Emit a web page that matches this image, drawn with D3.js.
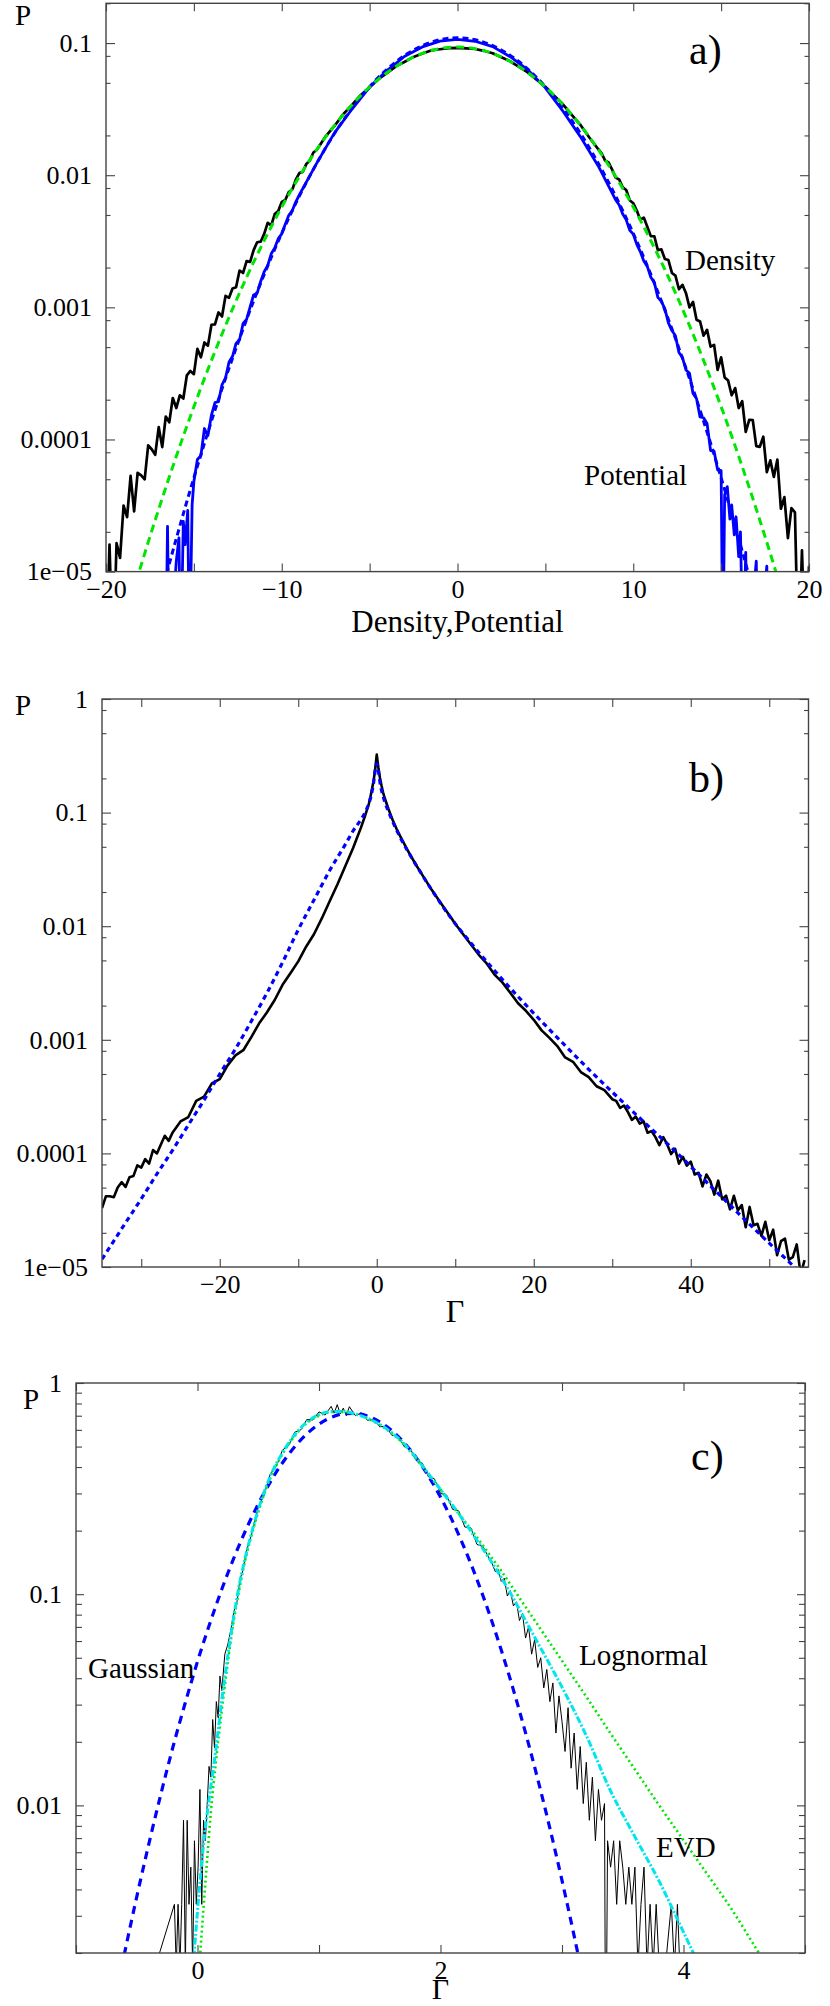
<!DOCTYPE html>
<html><head><meta charset="utf-8">
<script src="https://cdn.jsdelivr.net/npm/d3@7"></script>
<style>
body{margin:0;background:#fff}
svg{display:block}
text{font-family:"Liberation Serif","Times New Roman",serif}
</style>
</head><body>
<svg id="chart" width="830" height="2006"></svg>
<script>
// ---------------- DATA ----------------
// Panel a) : Density histogram (black), Gaussian fit (green), Potential histogram (blue) + fit (blue dashed)
const aDensity = [
 [-20,0],[-19.8,1.6e-5],[-19.6,0],[-19.4,1.64e-5],[-19.2,1.27e-5],[-19,3.16e-5],[-18.8,2.58e-5],[-18.6,5.3e-5],
 [-18.4,2.86e-5],[-18.2,5.6e-5],[-18,5.35e-5],[-17.8,4.99e-5],[-17.6,9.03e-5],[-17.4,8.43e-5],[-17.2,7.66e-5],[-17,1.24e-4],
 [-16.8,8.75e-5],[-16.6,1.49e-4],[-16.4,1.35e-4],[-16.2,2.06e-4],[-16,1.73e-4],[-15.8,2.16e-4],[-15.6,2.04e-4],[-15.4,3.06e-4],
 [-15.2,3.30e-4],[-15,3.12e-4],[-14.8,4.85e-4],[-14.6,4.19e-4],[-14.4,5.42e-4],[-14.2,5.13e-4],[-14,7.38e-4],[-13.8,7.43e-4],
 [-13.6,9.15e-4],[-13.4,8.53e-4],[-13.2,1.22e-3],[-13,1.18e-3],[-12.8,1.39e-3],[-12.6,1.42e-3],[-12.4,1.90e-3],[-12.2,1.82e-3],
 [-12,2.24e-3],[-11.8,2.21e-3],[-11.6,2.71e-3],[-11.4,3.11e-3],[-11.2,3.14e-3],[-11,3.60e-3],[-10.8,4.36e-3],[-10.6,4.17e-3],
 [-10.4,5.08e-3],[-10.2,5.36e-3],[-10,6.28e-3],[-9.8,6.49e-3],[-9.6,7.45e-3],[-9.4,7.80e-3],[-9.2,9.25e-3],[-9,1.038e-2],
 [-8.8,1.062e-2],[-8.6,1.219e-2],[-8.4,1.294e-2],[-8.2,1.486e-2],
 [-8,1.56e-2],[-7.5,1.97e-2],[-7,2.36e-2],[-6.5,2.9e-2],[-6,3.40e-2],[-5.5,4.05e-2],[-5,4.62e-2],[-4.5,5.33e-2],
 [-4,5.95e-2],[-3.5,6.66e-2],[-3,7.22e-2],[-2.5,7.86e-2],[-2,8.33e-2],[-1.5,8.8e-2],[-1,8.98e-2],[-0.5,9.16e-2],
 [0,9.2e-2],[0.5,9.12e-2],[1,9.02e-2],[1.5,8.74e-2],[2,8.38e-2],[2.5,7.8e-2],[3,7.28e-2],[3.5,6.6e-2],
 [4,6.0e-2],[4.5,5.28e-2],[5,4.67e-2],[5.5,4.0e-2],[6,3.44e-2],[6.5,2.86e-2],[7,2.40e-2],[7.5,1.93e-2],
 [8,1.58e-2],[8.2,1.466e-2],[8.4,1.288e-2],[8.6,1.247e-2],[8.8,1.102e-2],[9,9.59e-3],[9.2,9.29e-3],[9.4,8.09e-3],
 [9.6,7.73e-3],[9.8,6.46e-3],[10,6.14e-3],[10.2,5.40e-3],[10.4,4.61e-3],[10.6,4.78e-3],[10.8,4.08e-3],[11,3.46e-3],
 [11.2,3.45e-3],[11.4,2.71e-3],[11.6,2.75e-3],[11.8,2.32e-3],[12,2.28e-3],[12.2,1.82e-3],[12.4,1.74e-3],[12.6,1.37e-3],
 [12.8,1.48e-3],[13,1.28e-3],[13.2,9.99e-4],[13.4,1.10e-3],[13.6,8.06e-4],[13.8,7.82e-4],[14,6.11e-4],[14.2,6.76e-4],
 [14.4,5.04e-4],[14.6,5.2e-4],[14.8,3.36e-4],[15,4.19e-4],[15.2,2.95e-4],[15.4,2.79e-4],[15.6,2.16e-4],[15.8,2.45e-4],
 [16,1.73e-4],[16.2,1.95e-4],[16.4,1.14e-4],[16.6,1.41e-4],[16.8,1.40e-4],[17,8.9e-5],[17.2,8.8e-5],[17.4,1.05e-4],
 [17.6,5.65e-5],[17.8,6.95e-5],[18,5.2e-5],[18.2,7.05e-5],[18.4,2.99e-5],[18.6,3.66e-5],[18.8,1.79e-5],[19,3.02e-5],
 [19.2,2.81e-5],[19.4,0],[19.6,1.45e-5],[19.8,0],[20,1.1e-5]
];
const aDensityFit = [
 [-18.5,6.7e-6],[-18,1.12e-5],[-17,2.97e-5],[-16,7.46e-5],[-15,1.77e-4],[-14,3.97e-4],[-13,8.42e-4],[-12,1.69e-3],
 [-11,3.20e-3],[-10,5.75e-3],[-9,9.77e-3],[-8,1.57e-2],[-7,2.38e-2],[-6,3.42e-2],[-5,4.65e-2],[-4,5.98e-2],
 [-3,7.26e-2],[-2,8.35e-2],[-1,9.08e-2],[0,9.33e-2],[1,9.08e-2],[2,8.35e-2],[3,7.26e-2],[4,5.98e-2],
 [5,4.65e-2],[6,3.42e-2],[7,2.38e-2],[8,1.57e-2],[9,9.77e-3],[10,5.75e-3],[11,3.20e-3],[12,1.69e-3],
 [13,8.42e-4],[14,3.97e-4],[15,1.77e-4],[16,7.46e-5],[17,2.97e-5],[18,1.12e-5],[18.5,6.7e-6]
];
const aPotential = [
 [-16.6,0],[-16.5,2.2e-5],[-16.4,0],[-16,1.2e-5],[-15.85,1.8e-5],[-15.75,0],[-15.6,2.4e-5],[-15.5,1.6e-5],[-15.35,2.9e-5],
 [-15.25,0],[-15.1,3.2e-5],[-15,4.8e-5],[-14.8,7.05e-5],[-14.6,7.55e-5],[-14.4,1.21e-4],[-14.2,1.07e-4],[-14,1.53e-4],
 [-13.8,1.90e-4],[-13.6,1.93e-4],[-13.4,2.59e-4],[-13.2,2.92e-4],[-13,3.86e-4],[-12.8,4.26e-4],[-12.6,5.33e-4],[-12.4,5.69e-4],
 [-12.2,7.55e-4],[-12,8.12e-4],[-11.8,1.01e-3],[-11.6,1.24e-3],[-11.4,1.28e-3],[-11.2,1.57e-3],[-11,1.86e-3],[-10.8,2.07e-3],
 [-10.6,2.54e-3],[-10.4,2.81e-3],[-10.2,3.31e-3],[-10,3.60e-3],[-9.8,4.26e-3],[-9.6,4.97e-3],[-9.4,5.40e-3],[-9.2,6.29e-3],
 [-9,7.1e-3],[-8,1.24e-2],[-7,2.09e-2],[-6,3.17e-2],[-5,4.65e-2],[-4,6.22e-2],
 [-3,7.95e-2],[-2,9.35e-2],[-1,0.1035],[0,0.1065],[1,0.1032],[2,0.094],[3,0.0788],[4,0.0628],
 [5,0.0458],[6,0.0305],[7,0.0195],[8,0.0118],[9,6.5e-3],
 [9.2,5.95e-3],[9.4,5.09e-3],[9.6,4.59e-3],[9.8,3.83e-3],[10,3.58e-3],[10.2,3.0e-3],[10.4,2.64e-3],[10.6,2.24e-3],
 [10.8,2.04e-3],[11,1.69e-3],[11.2,1.54e-3],[11.4,1.19e-3],[11.6,1.11e-3],[11.8,9.73e-4],[12,7.63e-4],[12.2,6.67e-4],
 [12.4,6.10e-4],[12.6,4.55e-4],[12.8,4.17e-4],[13,3.36e-4],[13.2,3.17e-4],[13.4,2.23e-4],[13.6,2.04e-4],[13.8,1.48e-4],
 [14,1.46e-4],[14.2,1.32e-4],[14.4,8.25e-5],[14.6,8.16e-5],[14.8,5.89e-5],[15,5.8e-5],[15.1,0],[15.2,3.8e-5],
 [15.35,4.4e-5],[15.5,2.5e-5],[15.6,3.2e-5],[15.75,1.9e-5],[15.85,2.6e-5],[16,1.3e-5],[16.1,2.0e-5],[16.25,0],
 [16.4,1.4e-5],[16.5,0],[17,1.2e-5],[17.1,0],[17.6,1.1e-5],[17.7,0]
];
const aPotentialFit = [
 [-17,5.8e-6],[-16,1.78e-5],[-15,5.13e-5],[-14,1.378e-4],[-13,3.46e-4],[-12,8.1e-4],[-11,1.775e-3],[-10,3.63e-3],
 [-9,6.94e-3],[-8,1.238e-2],[-7,2.07e-2],[-6,3.21e-2],[-5,4.68e-2],[-4,6.36e-2],[-3,8.07e-2],[-2,9.57e-2],
 [-1,0.106],[0,0.1096],[1,0.106],[2,9.57e-2],[3,8.07e-2],[4,6.36e-2],[5,4.68e-2],[6,3.21e-2],
 [7,2.07e-2],[8,1.238e-2],[9,6.94e-3],[10,3.63e-3],[11,1.775e-3],[12,8.1e-4],[13,3.46e-4],[14,1.378e-4],
 [15,5.13e-5],[16,1.78e-5],[17,5.8e-6]
];
const aXTicks = [-20,-15,-10,-5,0,5,10,15,20];
const aXLabels = [-20,-10,0,10,20];
const aYMajor = [1e-5,1e-4,1e-3,1e-2,1e-1];
const aYLabels = ["1e\u221205","0.0001","0.001","0.01","0.1"];
const aYMinor = [2e-5,5e-5,8e-5,2e-4,5e-4,8e-4,2e-3,5e-3,8e-3,2e-2,5e-2,8e-2,0.2];

// Panel b) : Gamma distribution (black) and fit (blue dashed)
const bData = [
 [-35,3.3e-5],[-34.5,4.2e-5],[-34,4.2e-5],[-33.5,4.12e-5],[-33,5.01e-5],[-32.5,5.58e-5],[-32,5.07e-5],[-31.5,6.17e-5],
 [-31,6.31e-5],[-30.5,7.85e-5],[-30,7.5e-5],[-29.5,8.91e-5],[-29,8.13e-5],[-28.5,1.07e-4],[-28,1.0e-4],[-27.5,1.20e-4],
 [-27,1.43e-4],[-26.5,1.29e-4],[-26,1.53e-4],[-25,1.91e-4],[-24,2.09e-4],[-23,2.90e-4],[-22,3.16e-4],[-21,4.13e-4],
 [-20,4.5e-4],[-19,5.96e-4],[-18,7.3e-4],[-17,8.1e-4],[-16,1.05e-3],[-15,1.39e-3],[-14,1.74e-3],[-13,2.24e-3],
 [-12,3.05e-3],[-11,3.85e-3],[-10,4.9e-3],[-9,6.6e-3],[-8,8.5e-3],[-7,1.17e-2],[-6,1.66e-2],[-5,2.34e-2],
 [-4,3.39e-2],[-3,4.9e-2],[-2.5,6.03e-2],[-2,7.41e-2],[-1.5,9.33e-2],[-1,0.120],[-0.8,0.138],[-0.6,0.162],
 [-0.4,0.191],[-0.2,0.240],[0,0.324],[0.2,0.251],[0.4,0.204],[0.6,0.174],[0.8,0.151],[1,0.135],
 [1.5,0.107],[2,8.71e-2],[2.5,7.24e-2],[3,6.17e-2],[4,4.57e-2],[5,3.47e-2],[6,2.69e-2],[7,2.09e-2],
 [8,1.66e-2],[9,1.32e-2],[10,1.05e-2],[11,8.5e-3],[12,6.9e-3],[13,5.6e-3],[14,4.7e-3],[15,3.75e-3],
 [16,3.2e-3],[17,2.6e-3],[18,2.1e-3],[19,1.8e-3],[20,1.5e-3],[21,1.21e-3],[22,1.04e-3],[23,8.8e-4],
 [24,7.0e-4],[25,6.4e-4],[26,5.2e-4],[27,4.7e-4],[28,3.9e-4],[29,3.6e-4],[30,3.0e-4],[30.5,2.90e-4],
 [31,2.51e-4],[31.5,2.64e-4],[32,2.31e-4],[32.5,1.97e-4],[33,2.11e-4],[33.5,1.83e-4],[34,1.91e-4],[34.5,1.52e-4],
 [35,1.57e-4],[35.5,1.39e-4],[36,1.18e-4],[36.5,1.39e-4],[37,1.2e-4],[37.5,9.86e-5],[38,1.10e-4],[38.5,8.13e-5],
 [39,9.33e-5],[39.5,7.80e-5],[40,8.47e-5],[40.5,6.52e-5],[41,6.75e-5],[41.5,5.12e-5],[42,6.52e-5],[42.5,5.71e-5],
 [43,4.34e-5],[43.5,5.75e-5],[44,3.94e-5],[44.5,4.25e-5],[45,3.22e-5],[45.5,4.24e-5],[46,3.15e-5],[46.5,3.51e-5],
 [47,2.24e-5],[47.5,3.38e-5],[48,2.33e-5],[48.5,2.40e-5],[49,1.88e-5],[49.5,2.50e-5],[50,1.72e-5],[50.5,2.13e-5],
 [51,1.27e-5],[51.5,1.69e-5],[52,1.78e-5],[52.5,1.16e-5],[53,1.22e-5],[53.5,1.58e-5],[54,8.6e-6],[54.5,1.15e-5]
];
const bFit = [
 [-35,1.17e-5],[-32,2.45e-5],[-30,3.98e-5],[-28,6.6e-5],[-26,1.07e-4],[-24,1.78e-4],[-22,2.95e-4],[-20,5.0e-4],
 [-18,8.3e-4],[-16,1.45e-3],[-14,2.57e-3],[-12,4.8e-3],[-10,9.3e-3],[-8,1.7e-2],[-6,3.09e-2],[-4,5.25e-2],
 [-3,6.92e-2],[-2,8.71e-2],[-1.35,0.105],[-1,0.120],[-0.5,0.166],[0,0.269],[0.5,0.17],[1,0.126],
 [1.5,0.102],[3,6.03e-2],[5,3.47e-2],[7,2.09e-2],[9.5,1.17e-2],[12,7.1e-3],[15,4.07e-3],[18,2.4e-3],
 [21,1.45e-3],[24,8.9e-4],[27,5.5e-4],[30,3.47e-4],[34,1.9e-4],[38,1.05e-4],[42,5.6e-5],[46,3.0e-5],
 [50,1.62e-5],[54,8.9e-6]
];
const bXTicks = [-30,-20,-10,0,10,20,30,40,50];
const bXLabels = [-20,0,20,40];
const bYMajor = [1e-5,1e-4,1e-3,1e-2,1e-1,1];
const bYLabels = ["1e\u221205","0.0001","0.001","0.01","0.1","1"];
const bYMinor = [2e-5,5e-5,8e-5,2e-4,5e-4,8e-4,2e-3,5e-3,8e-3,2e-2,5e-2,8e-2,0.2,0.5,0.8];

// Panel c) : data (black), Gaussian (blue dashed), Lognormal (green dotted), EVD (cyan dash-dot)
const cData = [
 [-0.35,0.0017],[-0.19,0.0034],[-0.175,0.0017],[-0.16,0.0034],[-0.145,0.0017],[-0.13,0.0034],[-0.115,0.0085],[-0.10,0.0017],
 [-0.085,0.0085],[-0.07,0.0034],[-0.055,0.0051],[-0.04,0.0017],[-0.025,0.0068],[-0.01,0.0034],[0.005,0.0051],[0.02,0.0119],
 [0.035,0.0034],[0.05,0.0085],[0.065,0.0068],[0.08,0.0102],[0.095,0.0153],[0.11,0.0136],[0.125,0.0255],[0.14,0.0187],
 [0.155,0.031],[0.17,0.026],[0.185,0.041],[0.2,0.035],[0.225,0.052],[0.25,0.058],[0.275,0.068],[0.3,0.083],
 [0.325,0.092],[0.35,0.118],[0.375,0.130],[0.40,0.158],[0.45,0.196],[0.50,0.258],[0.55,0.298],[0.60,0.372],
 [0.65,0.405],[0.70,0.482],[0.75,0.505],[0.80,0.585],[0.85,0.60],[0.90,0.672],[0.95,0.668],[1.00,0.73],
 [1.05,0.705],[1.10,0.775],[1.125,0.72],[1.15,0.79],[1.175,0.715],[1.20,0.76],[1.225,0.70],[1.25,0.772],
 [1.30,0.70],[1.35,0.722],[1.40,0.665],[1.45,0.675],[1.50,0.62],[1.55,0.625],[1.60,0.565],[1.65,0.565],
 [1.70,0.50],[1.75,0.49],[1.80,0.43],[1.85,0.418],[1.90,0.36],[1.95,0.352],[2.00,0.30],[2.05,0.295],
 [2.10,0.252],[2.15,0.248],[2.20,0.208],[2.25,0.206],[2.30,0.172],[2.35,0.168],[2.40,0.148],[2.425,0.140],
 [2.45,0.128],[2.475,0.131],[2.50,0.115],[2.525,0.119],[2.55,0.098],[2.575,0.104],[2.60,0.088],[2.625,0.092],
 [2.65,0.075],[2.675,0.081],[2.70,0.062],[2.725,0.070],[2.75,0.052],[2.775,0.061],[2.80,0.045],[2.825,0.050],
 [2.85,0.036],[2.875,0.044],[2.90,0.031],[2.925,0.038],[2.95,0.022],[2.975,0.033],[3.00,0.025],[3.025,0.018],
 [3.05,0.029],[3.075,0.015],[3.10,0.022],[3.125,0.0119],[3.15,0.019],[3.175,0.0102],[3.20,0.016],[3.225,0.0085],
 [3.25,0.0136],[3.275,0.0068],[3.30,0.0119],[3.325,0.0085],[3.35,0.0102],[3.36,0],[3.375,0.0068],[3.40,0.0051],
 [3.425,0.0068],[3.45,0.0034],[3.475,0.0068],[3.50,0.0051],[3.525,0.0034],[3.55,0.0051],[3.575,0.0034],[3.60,0.0051],
 [3.625,0.0017],[3.65,0.0034],[3.675,0.0051],[3.70,0.0017],[3.725,0.0034],[3.75,0.0017],[3.775,0.0034],[3.80,0.0017],
 [3.85,0.0017],[3.90,0.0034],[3.925,0.0017],[3.95,0.0034],[3.97,0.0017],[4.0,0]
];
const cGaussian = [
 [-0.65,1.45e-3],[-0.6,2.0e-3],[-0.5,3.69e-3],[-0.4,6.59e-3],[-0.3,0.0114],[-0.2,0.0191],[-0.1,0.0307],[0,0.048],
 [0.1,0.0723],[0.2,0.1055],[0.3,0.1488],[0.4,0.2028],[0.5,0.2673],[0.6,0.3404],[0.7,0.4193],[0.8,0.499],
 [0.9,0.5742],[1.0,0.6388],[1.1,0.6871],[1.2,0.7144],[1.3,0.718],[1.4,0.6976],[1.5,0.6552],[1.6,0.5951],
 [1.7,0.5222],[1.8,0.443],[1.9,0.3635],[2.0,0.2884],[2.1,0.2211],[2.2,0.1638],[2.3,0.1174],[2.4,0.0813],
 [2.5,0.0544],[2.6,0.03524],[2.7,0.02204],[2.8,0.01334],[2.9,7.8e-3],[3.0,4.41e-3],[3.1,2.41e-3],[3.15,1.76e-3]
];
const cLognormal = [
 [0.02,1.9e-3],[0.05,3.3e-3],[0.08,5.6e-3],[0.11,9.3e-3],[0.15,0.0158],[0.20,0.0282],[0.25,0.0479],[0.30,0.0759],
 [0.35,0.110],[0.40,0.151],[0.45,0.195],[0.50,0.245],[0.60,0.355],[0.70,0.462],[0.80,0.562],[0.90,0.646],
 [1.00,0.700],[1.10,0.728],[1.20,0.730],[1.30,0.711],[1.40,0.679],[1.50,0.634],[1.60,0.578],[1.70,0.513],
 [1.80,0.437],[1.90,0.372],[2.00,0.313],[2.10,0.263],[2.20,0.221],[2.30,0.186],[2.40,0.155],[2.50,0.129],
 [2.60,0.106],[2.70,0.0871],[2.80,0.0716],[3.00,0.0484],[3.20,0.0327],[3.40,0.0219],[3.60,0.0148],[3.80,0.0100],
 [4.00,6.84e-3],[4.20,4.68e-3],[4.40,3.2e-3],[4.60,2.09e-3],[4.70,1.7e-3]
];
const cEVD = [
 [-0.03,1.9e-3],[0.0,3.16e-3],[0.03,5.0e-3],[0.06,7.4e-3],[0.1,0.0112],[0.15,0.0182],[0.2,0.0316],[0.25,0.0513],
 [0.3,0.0794],[0.35,0.115],[0.4,0.155],[0.45,0.2],[0.5,0.251],[0.6,0.363],[0.7,0.468],[0.8,0.569],
 [0.9,0.653],[1.0,0.708],[1.1,0.733],[1.2,0.733],[1.3,0.713],[1.4,0.681],[1.5,0.637],[1.6,0.581],
 [1.7,0.516],[1.8,0.442],[1.9,0.372],[2.0,0.313],[2.1,0.263],[2.2,0.219],[2.3,0.180],[2.4,0.148],
 [2.5,0.120],[2.6,0.0955],[2.7,0.075],[2.8,0.0589],[3.0,0.0363],[3.2,0.0214],[3.4,0.0117],[3.6,7.1e-3],
 [3.8,4.37e-3],[4.0,2.51e-3],[4.1,1.9e-3]
];
const cXTicks = [-1,0,1,2,3,4,5];
const cXLabels = [0,2,4];
const cYMajor = [0.01,0.1,1];
const cYLabels = ["0.01","0.1","1"];
const cYMinor = [0.002,0.003,0.004,0.005,0.006,0.007,0.008,0.009,0.02,0.03,0.04,0.05,0.06,0.07,0.08,0.09,0.2,0.3,0.4,0.5,0.6,0.7,0.8,0.9];

// ---------------- DRAWING ----------------
const svg = d3.select("#chart");
const FONT = '"Liberation Serif","Times New Roman",serif';
const fmtNum = d => d < 0 ? "\u2212" + Math.abs(d) : String(d);

function drawPanel(cfg) {
  const x = d3.scaleLinear().domain(cfg.xDomain).range([cfg.left, cfg.right]);
  const y = d3.scaleLog().domain(cfg.yDomain).range([cfg.bottom, cfg.top]);
  const floor = cfg.yDomain[0] / 5;

  svg.append("clipPath").attr("id", "clip-" + cfg.id)
    .append("rect").attr("x", cfg.left).attr("y", cfg.top)
    .attr("width", cfg.right - cfg.left).attr("height", cfg.bottom - cfg.top);

  const plot = svg.append("g").attr("clip-path", "url(#clip-" + cfg.id + ")");
  cfg.series.forEach(s => {
    const line = d3.line()
      .x(d => x(d[0]))
      .y(d => y(Math.max(d[1], floor)))
      .curve(s.smooth ? d3.curveMonotoneX : d3.curveLinear);
    plot.append("path").attr("d", line(s.data))
      .attr("fill", "none").attr("stroke", s.color).attr("stroke-width", s.width)
      .attr("stroke-dasharray", s.dash || null)
      .attr("stroke-linejoin", "round").attr("stroke-linecap", "butt");
  });

  const tickColor = "#444";
  const styleAxis = (g, fontSize) => {
    g.select(".domain").remove();
    g.selectAll(".tick line").attr("stroke", tickColor).attr("stroke-width", 1.1);
    g.attr("font-family", FONT).attr("font-size", fontSize);
    g.selectAll("text").attr("fill", "#000");
  };

  svg.append("g").attr("transform", `translate(0,${cfg.bottom})`)
    .call(d3.axisBottom(x).tickValues(cfg.xTicks)
      .tickFormat(d => cfg.xLabels.includes(d) ? fmtNum(d) : "")
      .tickSizeInner(-cfg.xTickLen).tickSizeOuter(0).tickPadding(8))
    .call(g => styleAxis(g, 26));
  svg.append("g").attr("transform", `translate(0,${cfg.top})`)
    .call(d3.axisTop(x).tickValues(cfg.xTicks).tickFormat("")
      .tickSizeInner(-cfg.xTickLen).tickSizeOuter(0))
    .call(g => styleAxis(g, 26));
  svg.append("g").attr("transform", `translate(${cfg.left},0)`)
    .call(d3.axisLeft(y).tickValues(cfg.yMajor)
      .tickFormat((d, i) => cfg.yLabels[i])
      .tickSizeInner(-cfg.yMajorLen).tickSizeOuter(0).tickPadding(14))
    .call(g => styleAxis(g, 26));
  svg.append("g").attr("transform", `translate(${cfg.left},0)`)
    .call(d3.axisLeft(y).tickValues(cfg.yMinor).tickFormat("")
      .tickSizeInner(-cfg.yMinorLen).tickSizeOuter(0))
    .call(g => styleAxis(g, 26));
  svg.append("g").attr("transform", `translate(${cfg.right},0)`)
    .call(d3.axisRight(y).tickValues(cfg.yMajor).tickFormat("")
      .tickSizeInner(-cfg.yMajorLen).tickSizeOuter(0))
    .call(g => styleAxis(g, 26));
  svg.append("g").attr("transform", `translate(${cfg.right},0)`)
    .call(d3.axisRight(y).tickValues(cfg.yMinor).tickFormat("")
      .tickSizeInner(-cfg.yMinorLen).tickSizeOuter(0))
    .call(g => styleAxis(g, 26));

  svg.append("rect").attr("x", cfg.left).attr("y", cfg.top)
    .attr("width", cfg.right - cfg.left).attr("height", cfg.bottom - cfg.top)
    .attr("fill", "none").attr("stroke", "#444").attr("stroke-width", 1.4);

  cfg.texts.forEach(t => {
    svg.append("text").attr("x", t.x).attr("y", t.y)
      .attr("font-family", FONT).attr("font-size", t.size)
      .attr("text-anchor", t.anchor || "start").attr("fill", "#000")
      .text(t.text);
  });
}

drawPanel({
  id: "a", left: 106, right: 809, top: 3.3, bottom: 571.6,
  xDomain: [-20, 20], yDomain: [1e-5, 0.2],
  xTicks: aXTicks, xLabels: aXLabels, xTickLen: 8,
  yMajor: aYMajor, yLabels: aYLabels, yMinor: aYMinor, yMajorLen: 9, yMinorLen: 4.5,
  series: [
    { data: aDensity, color: "#000", width: 2.7 },
    { data: aPotential, color: "#0000ff", width: 2.8 },
    { data: aPotentialFit, color: "#0000ff", width: 3, dash: "6,4", smooth: true },
    { data: aDensityFit, color: "#00e600", width: 3, dash: "8,5", smooth: true }
  ],
  texts: [
    { text: "P", x: 15, y: 25, size: 29 },
    { text: "a)", x: 689, y: 64, size: 42 },
    { text: "Density", x: 685, y: 270, size: 29 },
    { text: "Potential", x: 584, y: 485, size: 29 },
    { text: "Density,Potential", x: 457.5, y: 632, size: 31, anchor: "middle" }
  ]
});

drawPanel({
  id: "b", left: 102, right: 808.5, top: 699, bottom: 1267,
  xDomain: [-35, 55], yDomain: [1e-5, 1],
  xTicks: bXTicks, xLabels: bXLabels, xTickLen: 8,
  yMajor: bYMajor, yLabels: bYLabels, yMinor: bYMinor, yMajorLen: 9, yMinorLen: 4.5,
  series: [
    { data: bData, color: "#000", width: 2.6 },
    { data: bFit, color: "#0000ff", width: 3.2, dash: "5,4", smooth: true }
  ],
  texts: [
    { text: "P", x: 15, y: 715, size: 29 },
    { text: "b)", x: 689, y: 792, size: 42 },
    { text: "\u0393", x: 455, y: 1322, size: 32, anchor: "middle" }
  ]
});

drawPanel({
  id: "c", left: 76, right: 805, top: 1383, bottom: 1953,
  xDomain: [-1, 5], yDomain: [0.002, 1],
  xTicks: cXTicks, xLabels: cXLabels, xTickLen: 8,
  yMajor: cYMajor, yLabels: cYLabels, yMinor: cYMinor, yMajorLen: 8, yMinorLen: 6,
  series: [
    { data: cData, color: "#000", width: 1 },
    { data: cGaussian, color: "#0000ff", width: 3.2, dash: "8,6", smooth: true },
    { data: cLognormal, color: "#00e600", width: 2.6, dash: "2,3", smooth: true },
    { data: cEVD, color: "#00e5ee", width: 3, dash: "7,2,2,2", smooth: true }
  ],
  texts: [
    { text: "P", x: 23, y: 1409, size: 29 },
    { text: "c)", x: 691, y: 1470, size: 42 },
    { text: "Gaussian", x: 88, y: 1678, size: 29 },
    { text: "Lognormal", x: 579, y: 1665, size: 29 },
    { text: "EVD", x: 656, y: 1857, size: 29 },
    { text: "\u0393", x: 440.5, y: 1999, size: 30, anchor: "middle" }
  ]
});
</script>
</body></html>
